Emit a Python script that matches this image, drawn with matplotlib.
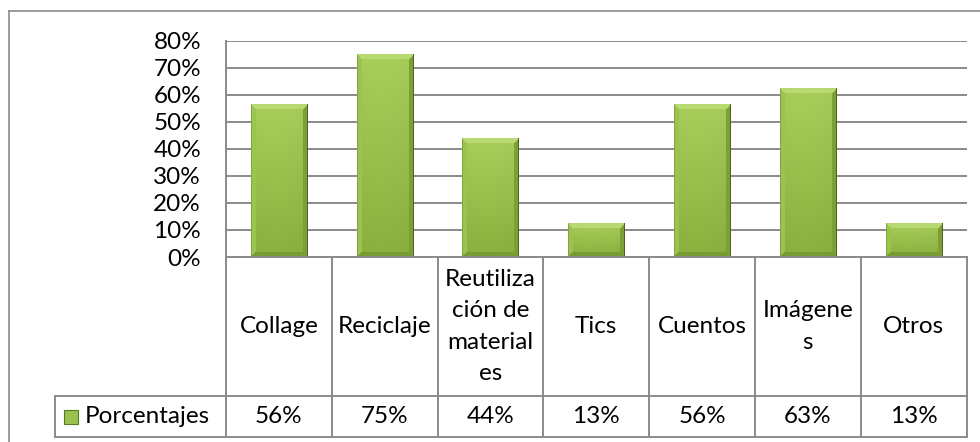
import math
import numpy as np
import matplotlib
matplotlib.use("Agg")
import matplotlib.pyplot as plt
from matplotlib.lines import Line2D
from matplotlib.patches import Rectangle
from matplotlib.transforms import blended_transform_factory

plt.rcParams['font.family'] = ['Lato', 'DejaVu Sans']

# ---- data ----
categories = ["Collage", "Reciclaje", "Reutiliza\nción de\nmaterial\nes", "Tics",
              "Cuentos", "Imágene\ns", "Otros"]
values = [56.25, 75.0, 43.75, 12.5, 56.25, 62.5, 12.5]   # percent
series_name = "Porcentajes"
yticks = [0, 10, 20, 30, 40, 50, 60, 70, 80]

W, H = 980, 442
FS = 17.5
GRID = '#8a8a8a'

fig = plt.figure(figsize=(W / 100, H / 100), dpi=100)
fig.patch.set_facecolor('white')


def fx(px):
    return px / W


def fy(py):
    return 1 - py / H


# outer chart border (left and top visible)
fig.add_artist(Line2D([fx(9), fx(9)], [fy(11), fy(445)], color=GRID, lw=1.2))
fig.add_artist(Line2D([fx(9), fx(985)], [fy(11), fy(11)], color=GRID, lw=1.2))

L, R, T, B = 226, 966.5, 40.7, 257
ax = fig.add_axes([fx(L), fy(B), fx(R) - fx(L), fy(T) - fy(B)])
n = len(categories)
ax.set_xlim(-0.5, n - 0.5)
ax.set_ylim(0, yticks[-1])
ax.set_yticks(yticks)
ax.set_yticklabels([f"{t}%" for t in yticks], fontsize=FS)
ax.tick_params(axis='y', length=0, pad=18)
ax.set_xticks([])
for s in ['top', 'right', 'bottom']:
    ax.spines[s].set_visible(False)
ax.spines['left'].set_color(GRID)
ax.spines['left'].set_linewidth(1.4)
ax.yaxis.grid(True, color=GRID, lw=1.4)
ax.set_axisbelow(True)

# ---- bars with bevel-like shading ----
bw = 0.53
bars = ax.bar(range(n), values, width=bw, color='#9bc14f', edgecolor='none', zorder=2)

px_per_x = (R - L) / n
px_per_y = (B - T) / yticks[-1]


def bar_image(wpx, hpx, bev=5):
    wpx = max(int(round(wpx)), 4)
    hpx = max(int(round(hpx)), 4)
    img = np.zeros((hpx, wpx, 3))
    top = np.array([0xa8, 0xce, 0x5b]) / 255
    bot = np.array([0x8a, 0xb0, 0x3e]) / 255
    for yy in range(hpx):
        f = yy / max(hpx - 1, 1)
        img[yy, :, :] = top * (1 - f) + bot * f
    xs = np.linspace(0, 1, wpx)
    shade = 1.0 - 0.06 * (xs - 0.4) ** 2
    img *= shade[None, :, None]
    b = min(bev, hpx // 3, wpx // 3)
    light = np.array([0xb8, 0xd9, 0x72]) / 255
    leftc = np.array([0x9c, 0xc2, 0x50]) / 255
    rightc = np.array([0x7d, 0xa0, 0x36]) / 255
    botc = np.array([0x78, 0x9b, 0x33]) / 255
    for yy in range(hpx):
        for xx in range(wpx):
            dt = yy
            db = hpx - 1 - yy
            dl = xx
            dr = wpx - 1 - xx
            m = min(dt, db, dl, dr)
            if m >= b:
                continue
            if m == dt:
                img[yy, xx] = light
            elif m == db:
                img[yy, xx] = botc
            elif m == dl:
                img[yy, xx] = leftc
            else:
                img[yy, xx] = rightc
    img[:, -1] = np.array([0x4e, 0x63, 0x22]) / 255
    img[:, 0] = img[:, 0] * 0.85
    img[-1, :] = np.array([0x5a, 0x72, 0x28]) / 255
    return img


for rect in bars:
    x0 = rect.get_x()
    w = rect.get_width()
    h = rect.get_height()
    im = bar_image(w * px_per_x, h * px_per_y)
    ax.imshow(im, extent=[x0, x0 + w, 0, h], aspect='auto',
              interpolation='nearest', zorder=3, origin='upper')
ax.set_xlim(-0.5, n - 0.5)
ax.set_ylim(0, yticks[-1])

# ---- data table ----
tb = blended_transform_factory(ax.transData, fig.transFigure)
row1_top, row2_top, row2_bot = 257, 396, 437
line_kw = dict(color=GRID, lw=1.4, clip_on=False, zorder=5)

ax.plot([-0.5, n - 0.5], [fy(row1_top)] * 2, transform=tb, **line_kw)
fig.add_artist(Line2D([fx(55), fx(R)], [fy(row2_top)] * 2, color=GRID, lw=1.4))
fig.add_artist(Line2D([fx(55), fx(R)], [fy(row2_bot)] * 2, color=GRID, lw=1.4))
fig.add_artist(Line2D([fx(55), fx(55)], [fy(row2_top), fy(row2_bot)], color=GRID, lw=1.4))
for i in range(n + 1):
    ax.plot([i - 0.5, i - 0.5], [fy(row1_top), fy(row2_bot)], transform=tb, **line_kw)

ycat = fy((row1_top + row2_top) / 2)
yval = fy((row2_top + row2_bot) / 2)
for i, (c, v) in enumerate(zip(categories, values)):
    ax.text(i, ycat, c, transform=tb, ha='center', va='center', fontsize=FS,
            linespacing=1.62, multialignment='center', clip_on=False)
    ax.text(i, yval, f"{math.floor(v + 0.5)}%", transform=tb, ha='center',
            va='center', fontsize=FS, clip_on=False)

# legend key + series name
fig.add_artist(Rectangle((fx(64), fy(424)), fx(78) - fx(64), fy(410) - fy(424),
                         facecolor='#9bc14f', edgecolor='#5a7a28', lw=0.8))
fig.text(fx(85), yval, series_name, ha='left', va='center', fontsize=FS)

fig.savefig("out.png", dpi=100, facecolor='white')
